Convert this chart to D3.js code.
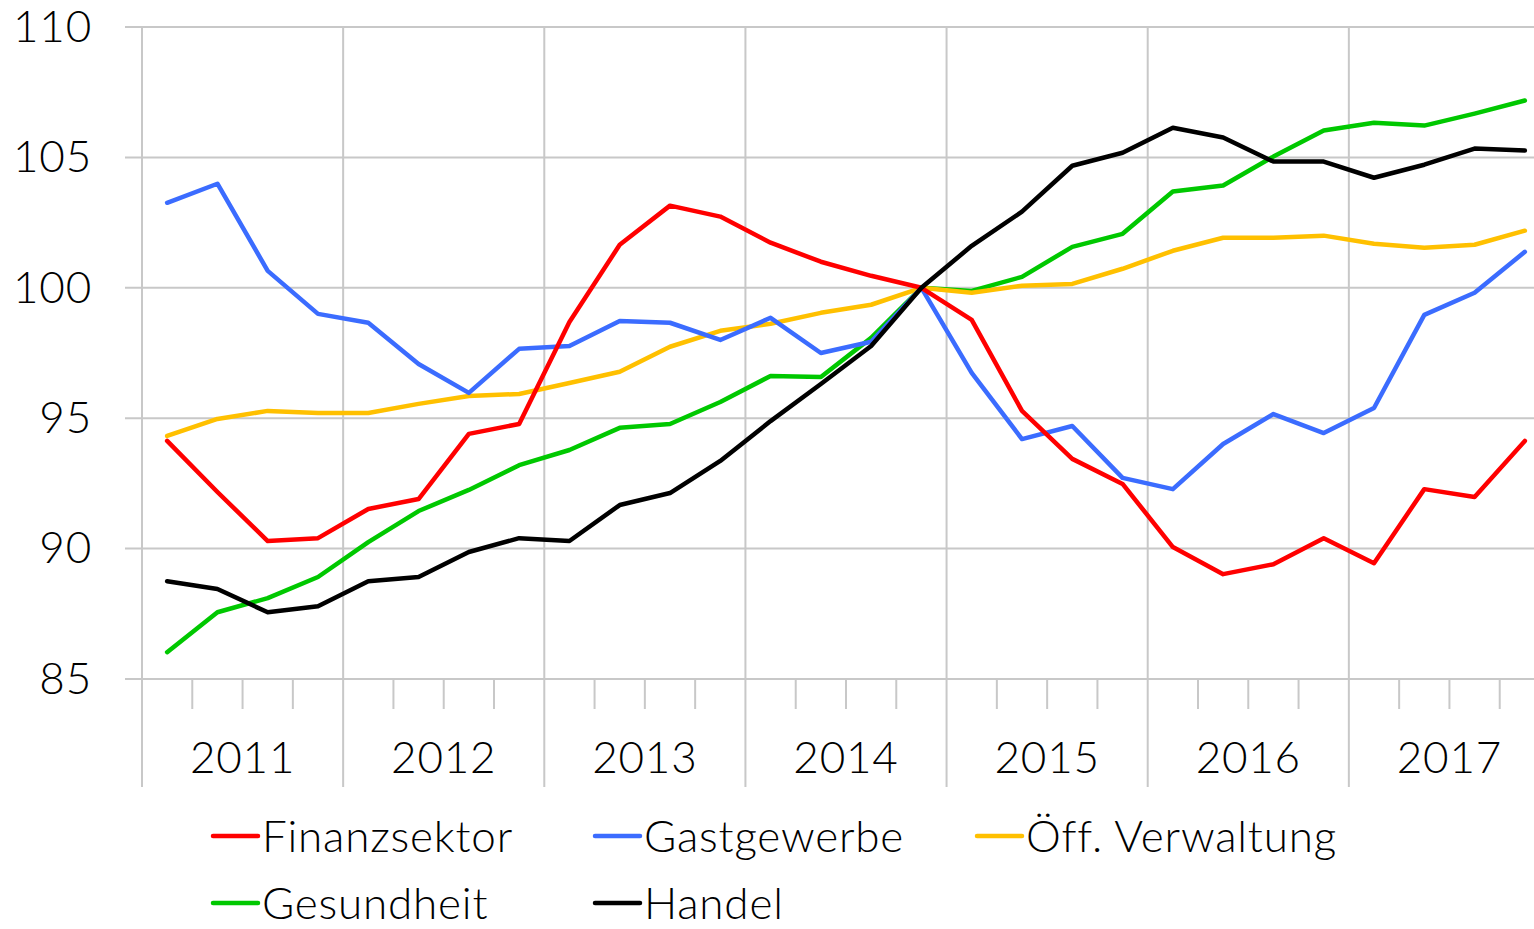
<!DOCTYPE html>
<html>
<head>
<meta charset="utf-8">
<script src="https://cdn.jsdelivr.net/npm/d3@7"></script>
<style>
  html, body { margin: 0; padding: 0; background: #fff; }
  svg { display: block; font-family: Lato, "Open Sans", sans-serif; font-weight: 300; letter-spacing: 0.8px; }
</style>
</head>
<body>
<svg width="1534" height="929"></svg>
<script>
// quarterly index, 2014 Q4 = 100
const years = ['2011', '2012', '2013', '2014', '2015', '2016', '2017'];
const quarters = years.flatMap(y => ['Q1', 'Q2', 'Q3', 'Q4'].map(q => y + q));
const yTicks = [85, 90, 95, 100, 105, 110];

const finanzsektor = [94.13, 92.17, 90.29, 90.40, 91.52, 91.90, 94.40, 94.78, 98.69, 101.65, 103.15, 102.73, 101.73, 101.0,
  100.46, 100, 98.77, 95.28, 93.44, 92.48, 90.06, 89.02, 89.40, 90.40, 89.44, 92.28, 91.98, 94.13];
const gastgewerbe = [103.26, 103.99, 100.65, 99.0, 98.66, 97.08, 95.97, 97.66, 97.77, 98.73, 98.66, 98.0, 98.85, 97.5,
  97.93, 100, 96.74, 94.2, 94.7, 92.71, 92.28, 94.01, 95.16, 94.43, 95.39, 98.96, 99.81, 101.38];
const verwaltung = [94.32, 94.97, 95.28, 95.2, 95.2, 95.55, 95.85, 95.93, 96.35, 96.78, 97.74, 98.35, 98.62, 99.04,
  99.35, 100, 99.81, 100.08, 100.15, 100.73, 101.42, 101.92, 101.92, 102.0, 101.69, 101.54, 101.65, 102.19];
const gesundheit = [86.03, 87.56, 88.1, 88.91, 90.25, 91.44, 92.25, 93.2, 93.78, 94.63, 94.78, 95.62, 96.62, 96.58,
  98.08, 100, 99.88, 100.42, 101.57, 102.07, 103.69, 103.92, 105.03, 106.03, 106.33, 106.22, 106.68, 107.18];
const handel = [88.75, 88.45, 87.56, 87.79, 88.75, 88.91, 89.87, 90.4, 90.29, 91.67, 92.13, 93.36, 94.89, 96.31,
  97.77, 100, 101.61, 102.92, 104.68, 105.18, 106.14, 105.76, 104.84, 104.84, 104.22, 104.72, 105.34, 105.26];

const series = [
  { name: 'Finanzsektor', color: '#ff0000', values: finanzsektor },
  { name: 'Gastgewerbe', color: '#3b6cff', values: gastgewerbe },
  { name: 'Öff. Verwaltung', color: '#ffc000', values: verwaltung },
  { name: 'Gesundheit', color: '#00c800', values: gesundheit },
  { name: 'Handel', color: '#000000', values: handel }
];
// draw order: black on top
const drawOrder = ['Gesundheit', 'Öff. Verwaltung', 'Gastgewerbe', 'Finanzsektor', 'Handel'];

const svg = d3.select('svg');
const grid = '#c8c8c8';
const fs = 44;

const x = d3.scaleBand().domain(quarters).range([142, 1550]);
const xc = q => x(q) + x.bandwidth() / 2;
const y = d3.scaleLinear().domain([85, 110]).range([679, 27]);

// horizontal grid
svg.append('g').selectAll('line').data(yTicks).join('line')
  .attr('x1', 125).attr('x2', 1560)
  .attr('y1', d => y(d)).attr('y2', d => y(d))
  .attr('stroke', grid).attr('stroke-width', 2);

svg.append('g').selectAll('text').data(yTicks).join('text')
  .attr('x', 92).attr('y', d => y(d) - 1).attr('dy', '0.36em')
  .attr('text-anchor', 'end').attr('font-size', fs).attr('fill', '#000')
  .text(d => d);

// year separators (full height) and quarter ticks
const yearStarts = years.map(yr => x(yr + 'Q1')).concat([x.range()[1]]);
svg.append('g').selectAll('line').data(yearStarts).join('line')
  .attr('x1', d => d).attr('x2', d => d)
  .attr('y1', y(110)).attr('y2', 787)
  .attr('stroke', grid).attr('stroke-width', 2);

const qTicks = quarters.filter(q => !q.endsWith('Q1')).map(q => x(q));
svg.append('g').selectAll('line').data(qTicks).join('line')
  .attr('x1', d => d).attr('x2', d => d)
  .attr('y1', y(85)).attr('y2', 709)
  .attr('stroke', grid).attr('stroke-width', 2);

svg.append('g').selectAll('text').data(years).join('text')
  .attr('x', yr => x(yr + 'Q1') + x.bandwidth() * 2)
  .attr('y', 773)
  .attr('text-anchor', 'middle').attr('font-size', fs).attr('fill', '#000')
  .text(d => d);

// lines
const line = d3.line().x((d, i) => xc(quarters[i])).y(d => y(d));
svg.append('g').selectAll('path')
  .data(drawOrder.map(n => series.find(s => s.name === n)))
  .join('path')
  .attr('d', d => line(d.values))
  .attr('fill', 'none').attr('stroke', d => d.color)
  .attr('stroke-width', 4.5).attr('stroke-linejoin', 'round').attr('stroke-linecap', 'round');

// legend
const legendPos = [[213, 836], [595, 836], [977, 836], [213, 903], [595, 903]];
const lg = svg.append('g').selectAll('g').data(series).join('g')
  .attr('transform', (d, i) => `translate(${legendPos[i][0]},${legendPos[i][1]})`);
lg.append('line').attr('x1', 0).attr('x2', 45)
  .attr('stroke', d => d.color).attr('stroke-width', 4.5).attr('stroke-linecap', 'round');
lg.append('text').attr('x', 49).attr('dy', '0.36em')
  .attr('font-size', fs).attr('fill', '#000')
  .text(d => d.name);
</script>
</body>
</html>
